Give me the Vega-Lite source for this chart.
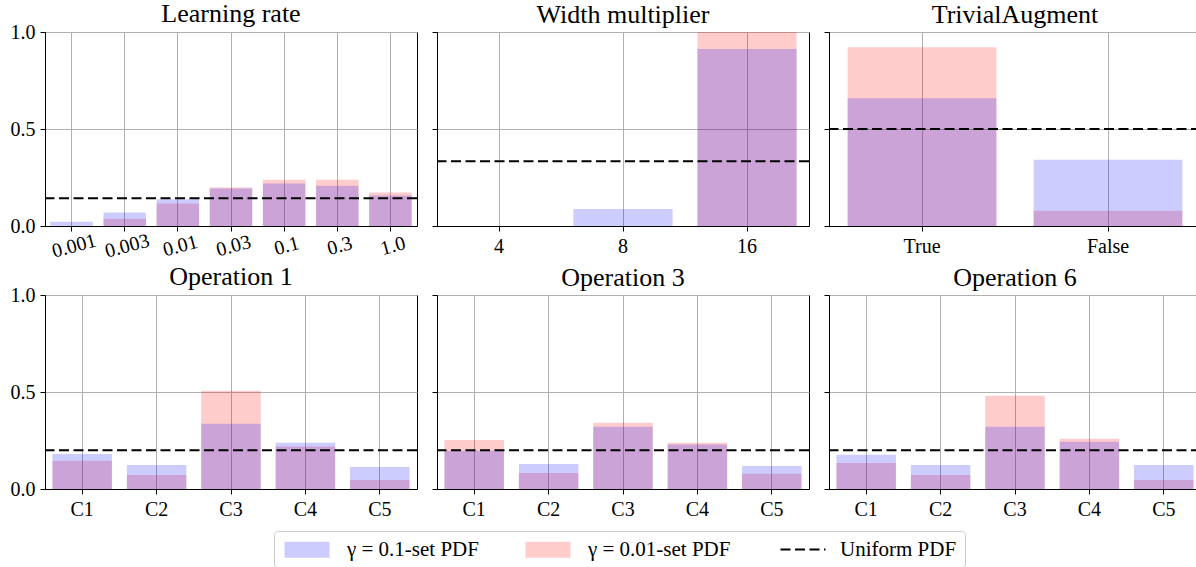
{
  "$schema": "https://vega.github.io/schema/vega-lite/v6.json",
  "padding": {"left": 9, "top": 0, "right": 0, "bottom": 0},
  "spacing": 1,
  "datasets": {
    "bars": [
      {"panel": "lr", "cat": "0.001", "series": "g001", "p": 0.0},
      {"panel": "lr", "cat": "0.003", "series": "g001", "p": 0.038},
      {"panel": "lr", "cat": "0.01", "series": "g001", "p": 0.116},
      {"panel": "lr", "cat": "0.03", "series": "g001", "p": 0.199},
      {"panel": "lr", "cat": "0.1", "series": "g001", "p": 0.238},
      {"panel": "lr", "cat": "0.3", "series": "g001", "p": 0.238},
      {"panel": "lr", "cat": "1.0", "series": "g001", "p": 0.173},
      {"panel": "lr", "cat": "0.001", "series": "g01", "p": 0.022},
      {"panel": "lr", "cat": "0.003", "series": "g01", "p": 0.069},
      {"panel": "lr", "cat": "0.01", "series": "g01", "p": 0.138},
      {"panel": "lr", "cat": "0.03", "series": "g01", "p": 0.193},
      {"panel": "lr", "cat": "0.1", "series": "g01", "p": 0.219},
      {"panel": "lr", "cat": "0.3", "series": "g01", "p": 0.207},
      {"panel": "lr", "cat": "1.0", "series": "g01", "p": 0.157},
      {"panel": "wm", "cat": "4", "series": "g001", "p": 0.0},
      {"panel": "wm", "cat": "8", "series": "g001", "p": 0.0},
      {"panel": "wm", "cat": "16", "series": "g001", "p": 1.0},
      {"panel": "wm", "cat": "4", "series": "g01", "p": 0.0},
      {"panel": "wm", "cat": "8", "series": "g01", "p": 0.088},
      {"panel": "wm", "cat": "16", "series": "g01", "p": 0.912},
      {"panel": "ta", "cat": "True", "series": "g001", "p": 0.922},
      {"panel": "ta", "cat": "False", "series": "g001", "p": 0.078},
      {"panel": "ta", "cat": "True", "series": "g01", "p": 0.658},
      {"panel": "ta", "cat": "False", "series": "g01", "p": 0.342},
      {"panel": "op1", "cat": "C1", "series": "g001", "p": 0.145},
      {"panel": "op1", "cat": "C2", "series": "g001", "p": 0.072},
      {"panel": "op1", "cat": "C3", "series": "g001", "p": 0.507},
      {"panel": "op1", "cat": "C4", "series": "g001", "p": 0.219},
      {"panel": "op1", "cat": "C5", "series": "g001", "p": 0.047},
      {"panel": "op1", "cat": "C1", "series": "g01", "p": 0.181},
      {"panel": "op1", "cat": "C2", "series": "g01", "p": 0.124},
      {"panel": "op1", "cat": "C3", "series": "g01", "p": 0.336},
      {"panel": "op1", "cat": "C4", "series": "g01", "p": 0.238},
      {"panel": "op1", "cat": "C5", "series": "g01", "p": 0.114},
      {"panel": "op3", "cat": "C1", "series": "g001", "p": 0.253},
      {"panel": "op3", "cat": "C2", "series": "g001", "p": 0.083},
      {"panel": "op3", "cat": "C3", "series": "g001", "p": 0.341},
      {"panel": "op3", "cat": "C4", "series": "g001", "p": 0.238},
      {"panel": "op3", "cat": "C5", "series": "g001", "p": 0.078},
      {"panel": "op3", "cat": "C1", "series": "g01", "p": 0.197},
      {"panel": "op3", "cat": "C2", "series": "g01", "p": 0.129},
      {"panel": "op3", "cat": "C3", "series": "g01", "p": 0.321},
      {"panel": "op3", "cat": "C4", "series": "g01", "p": 0.229},
      {"panel": "op3", "cat": "C5", "series": "g01", "p": 0.119},
      {"panel": "op6", "cat": "C1", "series": "g001", "p": 0.134},
      {"panel": "op6", "cat": "C2", "series": "g001", "p": 0.072},
      {"panel": "op6", "cat": "C3", "series": "g001", "p": 0.481},
      {"panel": "op6", "cat": "C4", "series": "g001", "p": 0.259},
      {"panel": "op6", "cat": "C5", "series": "g001", "p": 0.047},
      {"panel": "op6", "cat": "C1", "series": "g01", "p": 0.176},
      {"panel": "op6", "cat": "C2", "series": "g01", "p": 0.124},
      {"panel": "op6", "cat": "C3", "series": "g01", "p": 0.321},
      {"panel": "op6", "cat": "C4", "series": "g01", "p": 0.243},
      {"panel": "op6", "cat": "C5", "series": "g01", "p": 0.124}
    ],
    "uniform": [
      {"panel": "lr", "kind": "uniform", "u": 0.142857},
      {"panel": "wm", "kind": "uniform", "u": 0.333333},
      {"panel": "ta", "kind": "uniform", "u": 0.5},
      {"panel": "op1", "kind": "uniform", "u": 0.2},
      {"panel": "op3", "kind": "uniform", "u": 0.2},
      {"panel": "op6", "kind": "uniform", "u": 0.2}
    ]
  },
  "resolve": {"scale": {"fill": "shared", "strokeDash": "shared"}, "legend": {"fill": "shared", "strokeDash": "shared"}},
  "vconcat": [
    {
      "spacing": 12,
      "resolve": {"scale": {"fill": "shared", "strokeDash": "shared"}, "legend": {"fill": "shared", "strokeDash": "shared"}},
      "hconcat": [
        {
          "width": 372, "height": 194,
          "title": {"text": "Learning rate", "offset": -5},
          "layer": [
            {
              "data": {"name": "bars"},
              "transform": [{"filter": "datum.panel === 'lr'"}],
              "mark": {"type": "bar", "opacity": 0.2},
              "encoding": {
                "x": {"field": "cat", "type": "nominal", "sort": null, "scale": {"paddingInner": 0.2, "paddingOuter": 0.1}, "axis": {"title": null, "bandPosition": 0.5, "grid": true, "labelAngle": -15, "labelAlign": "center", "labelBaseline": "top"}},
                "y": {"field": "p", "type": "quantitative", "stack": null, "scale": {"domain": [0, 1], "nice": false}, "axis": {"title": null, "values": [0, 0.5, 1], "format": ".1f", "grid": true}},
                "fill": {
                  "field": "series", "type": "nominal",
                  "scale": {"domain": ["g01", "g001", "uniform"], "range": ["#0000ff", "#ff0000", "transparent"]},
                  "legend": {
                    "orient": "none", "legendX": 229, "legendY": 499,
                    "direction": "horizontal", "title": null,
                    "labelExpr": "datum.value === 'g01' ? 'γ = 0.1-set PDF' : (datum.value === 'g001' ? 'γ = 0.01-set PDF' : 'Uniform PDF')",
                    "labelFont": "Liberation Serif", "labelFontSize": 21, "labelColor": "black",
                    "symbolSize": 256, "symbolType": "M-1,-1H4.625V1H-1Z", "symbolStrokeWidth": 0,
                    "labelOffset": 44, "columnPadding": 44, "padding": 8,
                    "strokeColor": "#cccccc", "fillColor": "white", "cornerRadius": 4
                  }
                }
              }
            },
            {
              "data": {"name": "uniform"},
              "transform": [{"filter": "datum.panel === 'lr'"}],
              "mark": {"type": "rule", "strokeWidth": 2, "color": "black"},
              "encoding": {
                "y": {"field": "u", "type": "quantitative"},
                "strokeDash": {
                  "field": "kind", "type": "nominal",
                  "scale": {"domain": ["uniform"], "range": [[10, 4.5]]},
                  "legend": {
                    "orient": "none", "legendX": 733, "legendY": 507,
                    "direction": "horizontal", "title": null,
                    "labelExpr": "''",
                    "labelFontSize": 21,
                    "symbolSize": 256, "symbolType": "M-1,0H4.625",
                    "symbolStrokeColor": "black", "symbolStrokeWidth": 2,
                    "labelOffset": 0, "padding": 0
                  }
                }
              }
            }
          ]
        },
        {
          "width": 372, "height": 194,
          "title": "Width multiplier",
          "layer": [
            {
              "data": {"name": "bars"},
              "transform": [{"filter": "datum.panel === 'wm'"}],
              "mark": {"type": "bar", "opacity": 0.2},
              "encoding": {
                "x": {"field": "cat", "type": "nominal", "sort": null, "scale": {"paddingInner": 0.2, "paddingOuter": 0.1}, "axis": {"title": null, "bandPosition": 0.5, "grid": true, "labelAngle": 0}},
                "y": {"field": "p", "type": "quantitative", "stack": null, "scale": {"domain": [0, 1], "nice": false}, "axis": {"title": null, "values": [0, 0.5, 1], "labels": false, "grid": true}},
                "fill": {"field": "series", "type": "nominal"}
              }
            },
            {
              "data": {"name": "uniform"},
              "transform": [{"filter": "datum.panel === 'wm'"}],
              "mark": {"type": "rule", "strokeWidth": 2, "color": "black"},
              "encoding": {"y": {"field": "u", "type": "quantitative"}, "strokeDash": {"field": "kind", "type": "nominal"}}
            }
          ]
        },
        {
          "width": 372, "height": 194,
          "title": "TrivialAugment",
          "layer": [
            {
              "data": {"name": "bars"},
              "transform": [{"filter": "datum.panel === 'ta'"}],
              "mark": {"type": "bar", "opacity": 0.2},
              "encoding": {
                "x": {"field": "cat", "type": "nominal", "sort": null, "scale": {"paddingInner": 0.2, "paddingOuter": 0.1}, "axis": {"title": null, "bandPosition": 0.5, "grid": true, "labelAngle": 0}},
                "y": {"field": "p", "type": "quantitative", "stack": null, "scale": {"domain": [0, 1], "nice": false}, "axis": {"title": null, "values": [0, 0.5, 1], "labels": false, "grid": true}},
                "fill": {"field": "series", "type": "nominal"}
              }
            },
            {
              "data": {"name": "uniform"},
              "transform": [{"filter": "datum.panel === 'ta'"}],
              "mark": {"type": "rule", "strokeWidth": 2, "color": "black"},
              "encoding": {"y": {"field": "u", "type": "quantitative"}, "strokeDash": {"field": "kind", "type": "nominal"}}
            }
          ]
        }
      ]
    },
    {
      "spacing": 12,
      "resolve": {"scale": {"fill": "shared", "strokeDash": "shared"}, "legend": {"fill": "shared", "strokeDash": "shared"}},
      "hconcat": [
        {
          "width": 372, "height": 194,
          "title": {"text": "Operation 1", "offset": -5},
          "layer": [
            {
              "data": {"name": "bars"},
              "transform": [{"filter": "datum.panel === 'op1'"}],
              "mark": {"type": "bar", "opacity": 0.2},
              "encoding": {
                "x": {"field": "cat", "type": "nominal", "sort": null, "scale": {"paddingInner": 0.2, "paddingOuter": 0.1}, "axis": {"title": null, "bandPosition": 0.5, "grid": true, "labelAngle": 0}},
                "y": {"field": "p", "type": "quantitative", "stack": null, "scale": {"domain": [0, 1], "nice": false}, "axis": {"title": null, "values": [0, 0.5, 1], "format": ".1f", "grid": true}},
                "fill": {"field": "series", "type": "nominal"}
              }
            },
            {
              "data": {"name": "uniform"},
              "transform": [{"filter": "datum.panel === 'op1'"}],
              "mark": {"type": "rule", "strokeWidth": 2, "color": "black"},
              "encoding": {"y": {"field": "u", "type": "quantitative"}, "strokeDash": {"field": "kind", "type": "nominal"}}
            }
          ]
        },
        {
          "width": 372, "height": 194,
          "title": "Operation 3",
          "layer": [
            {
              "data": {"name": "bars"},
              "transform": [{"filter": "datum.panel === 'op3'"}],
              "mark": {"type": "bar", "opacity": 0.2},
              "encoding": {
                "x": {"field": "cat", "type": "nominal", "sort": null, "scale": {"paddingInner": 0.2, "paddingOuter": 0.1}, "axis": {"title": null, "bandPosition": 0.5, "grid": true, "labelAngle": 0}},
                "y": {"field": "p", "type": "quantitative", "stack": null, "scale": {"domain": [0, 1], "nice": false}, "axis": {"title": null, "values": [0, 0.5, 1], "labels": false, "grid": true}},
                "fill": {"field": "series", "type": "nominal"}
              }
            },
            {
              "data": {"name": "uniform"},
              "transform": [{"filter": "datum.panel === 'op3'"}],
              "mark": {"type": "rule", "strokeWidth": 2, "color": "black"},
              "encoding": {"y": {"field": "u", "type": "quantitative"}, "strokeDash": {"field": "kind", "type": "nominal"}}
            }
          ]
        },
        {
          "width": 372, "height": 194,
          "title": "Operation 6",
          "layer": [
            {
              "data": {"name": "bars"},
              "transform": [{"filter": "datum.panel === 'op6'"}],
              "mark": {"type": "bar", "opacity": 0.2},
              "encoding": {
                "x": {"field": "cat", "type": "nominal", "sort": null, "scale": {"paddingInner": 0.2, "paddingOuter": 0.1}, "axis": {"title": null, "bandPosition": 0.5, "grid": true, "labelAngle": 0}},
                "y": {"field": "p", "type": "quantitative", "stack": null, "scale": {"domain": [0, 1], "nice": false}, "axis": {"title": null, "values": [0, 0.5, 1], "labels": false, "grid": true}},
                "fill": {"field": "series", "type": "nominal"}
              }
            },
            {
              "data": {"name": "uniform"},
              "transform": [{"filter": "datum.panel === 'op6'"}],
              "mark": {"type": "rule", "strokeWidth": 2, "color": "black"},
              "encoding": {"y": {"field": "u", "type": "quantitative"}, "strokeDash": {"field": "kind", "type": "nominal"}}
            }
          ]
        }
      ]
    }
  ],
  "config": {
    "font": "Liberation Serif",
    "view": {"stroke": "black", "strokeWidth": 1},
    "axis": {"labelFont": "Liberation Serif", "labelFontSize": 20, "labelColor": "black", "tickColor": "black", "tickSize": 5, "tickWidth": 1, "labelPadding": 5, "domainColor": "black", "gridColor": "#b0b0b0", "gridWidth": 1},
    "title": {"font": "Liberation Serif", "fontSize": 26, "fontWeight": "normal", "color": "black", "anchor": "middle", "frame": "group", "baseline": "alphabetic", "offset": 4}
  }
}
